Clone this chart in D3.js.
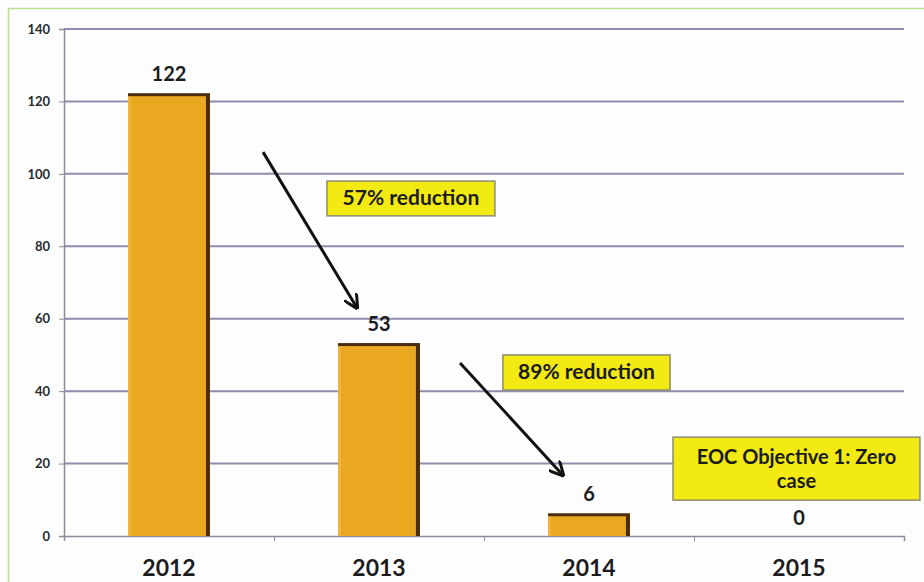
<!DOCTYPE html>
<html><head><meta charset="utf-8">
<script src="https://cdn.jsdelivr.net/npm/d3@7"></script>
<style>
html,body{margin:0;padding:0;background:#fff;}
svg{display:block;font-family:Lato,"Open Sans",sans-serif;}
</style></head>
<body>
<svg id="c" width="924" height="582"></svg>
<script>
const categories = ["2012","2013","2014","2015"];
const cases = [122, 53, 6, 0];
const yTicks = [0,20,40,60,80,100,120,140];
const boxTexts = [["57% reduction"],["89% reduction"],["EOC Objective 1: Zero","case"]];
// annotation anchors in chart units: x in category slots (0..4), y in values
const arrowFrom = [[0.948,106],[1.886,47.8]];
const arrowTo = [[1.395,63],[2.376,16.8]];
const boxX = [[1.252,2.052],[2.090,2.886],[2.900,4.076]];
const boxY = [[98,88.4],[50,40.3],[27.3,9.9]];

(function(){
const svg = d3.select("#c");
const pL=64, pR=904, pT=29, pB=536;
svg.append("rect").attr("x",0).attr("y",0).attr("width",924).attr("height",582).attr("fill","#fdfdfe");
// green frame
svg.append("path").attr("d","M8.5,582 V8.5 H924").attr("fill","none").attr("stroke","#b9df8f").attr("stroke-width",1.5);

const x = d3.scaleBand().domain(categories).range([pL,pR]).paddingInner(0.61).paddingOuter(0.305);
const xs = d3.scaleLinear().domain([0,4]).range([pL,pR]);
const y = d3.scaleLinear().domain([0,140]).range([pB,pT]);

// gridlines
svg.append("g").selectAll("line").data(yTicks.filter(d=>d>0)).join("line")
  .attr("x1",pL).attr("x2",pR).attr("y1",d=>y(d)).attr("y2",d=>y(d))
  .attr("stroke","#8e8dae").attr("stroke-width",2);

// y axis
const ya = svg.append("g").attr("transform",`translate(${pL},0)`)
  .call(d3.axisLeft(y).tickValues(yTicks).tickSize(5).tickPadding(9));
ya.select(".domain").attr("stroke","#8a8a9a").attr("stroke-width",1.5);
ya.selectAll(".tick line").attr("stroke","#8a8a9a");
ya.selectAll("text").attr("font-size",13).attr("font-weight","bold").attr("fill","#2a2a2a").attr("font-family","Lato");

// x axis
const xa = svg.append("g").attr("transform",`translate(0,${pB})`)
  .call(d3.axisBottom(xs).tickValues([0,1,2,3,4]).tickSize(5).tickFormat(""));
xa.select(".domain").attr("stroke","#8a8a9a").attr("stroke-width",1.5);
xa.selectAll(".tick line").attr("stroke","#8a8a9a");
svg.append("g").selectAll("text").data(categories).join("text")
  .attr("x",d=>x(d)+x.bandwidth()/2).attr("y",576).attr("text-anchor","middle")
  .attr("font-size",23).attr("font-weight","bold").attr("fill","#1c1c1c").text(d=>d);

// bars
const bars = svg.append("g").selectAll("g").data(categories.map((c,i)=>({c,v:cases[i]})).filter(d=>d.v>0)).join("g");
bars.append("rect").attr("x",d=>x(d.c)).attr("y",d=>y(d.v)).attr("width",x.bandwidth())
  .attr("height",d=>pB-y(d.v)).attr("fill","#e9a820");
bars.append("rect").attr("x",d=>x(d.c)).attr("y",d=>y(d.v)).attr("width",3)
  .attr("height",d=>pB-y(d.v)).attr("fill","#f0b43a");
bars.append("rect").attr("x",d=>x(d.c)+x.bandwidth()-4).attr("y",d=>y(d.v)).attr("width",4)
  .attr("height",d=>pB-y(d.v)).attr("fill","#4a2e0c");
bars.append("rect").attr("x",d=>x(d.c)).attr("y",d=>y(d.v)-1).attr("width",x.bandwidth())
  .attr("height",3).attr("fill","#4a2e0c");

// value labels
svg.append("g").selectAll("text").data(categories.map((c,i)=>({c,v:cases[i]}))).join("text")
  .attr("x",d=>x(d.c)+x.bandwidth()/2).attr("y",d=>y(d.v)-(d.v>0?13:11)).attr("text-anchor","middle")
  .attr("font-size",20).attr("font-weight","bold").attr("fill","#1c1c1c").text(d=>d.v);

// arrows
const defs = svg.append("defs");
defs.append("marker").attr("id","ah").attr("viewBox","0 0 10 10").attr("refX",9).attr("refY",5)
  .attr("markerWidth",5).attr("markerHeight",5).attr("orient","auto")
  .append("path").attr("d","M0,0 L10,5 L0,10").attr("fill","none").attr("stroke","#111").attr("stroke-width",2);
svg.append("g").selectAll("line").data(arrowFrom).join("line")
  .attr("x1",d=>xs(d[0])).attr("y1",d=>y(d[1]))
  .attr("x2",(d,i)=>xs(arrowTo[i][0])).attr("y2",(d,i)=>y(arrowTo[i][1]))
  .attr("stroke","#111").attr("stroke-width",3).attr("marker-end","url(#ah)");

// annotation boxes
const bg = svg.append("g").selectAll("g").data(boxTexts).join("g");
bg.append("rect").attr("x",(d,i)=>xs(boxX[i][0])).attr("y",(d,i)=>y(boxY[i][0]))
  .attr("width",(d,i)=>xs(boxX[i][1])-xs(boxX[i][0])).attr("height",(d,i)=>y(boxY[i][1])-y(boxY[i][0]))
  .attr("fill","#f3ea14").attr("stroke","#8c8c70").attr("stroke-width",1.5);
bg.each(function(lines,i){
  const cx=(xs(boxX[i][0])+xs(boxX[i][1]))/2, cy=(y(boxY[i][0])+y(boxY[i][1]))/2;
  const n=lines.length, fs = n>1?20:21, lh=24;
  d3.select(this).selectAll("text").data(lines).join("text")
    .attr("x",cx).attr("y",(d,j)=>cy+(j-(n-1)/2)*lh+7).attr("text-anchor","middle")
    .attr("font-size",fs).attr("font-weight","bold").attr("fill","#1c1c1c").text(d=>d);
});
})();
</script>
</body></html>
